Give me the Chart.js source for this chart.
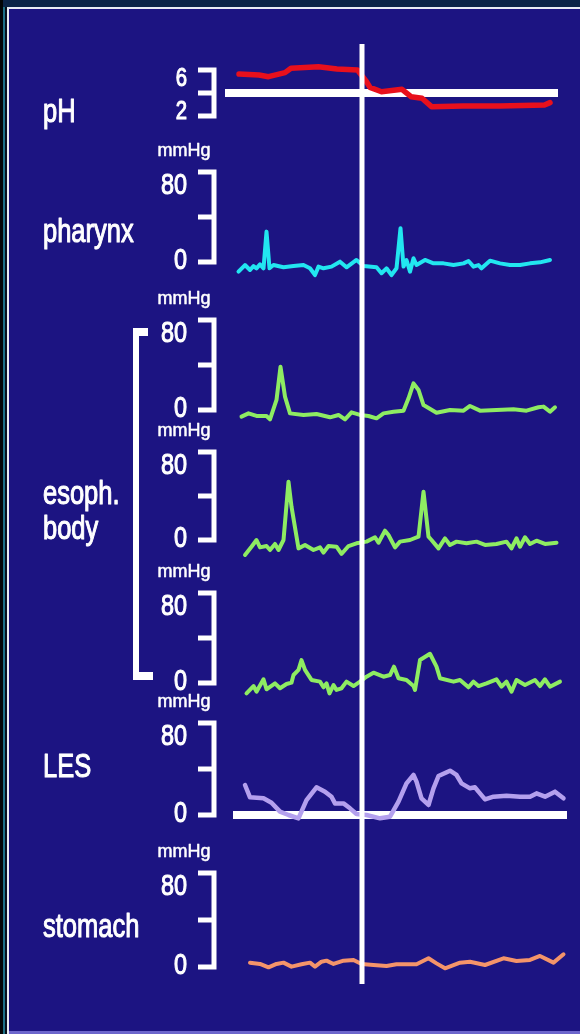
<!DOCTYPE html>
<html><head><meta charset="utf-8">
<script src="https://cdn.jsdelivr.net/npm/chart.js@4.4.1/dist/chart.umd.min.js"></script>
<style>html,body{margin:0;padding:0;background:#0b2447;overflow:hidden}canvas{display:block}</style>
</head><body>
<canvas id="c" width="580" height="1034"></canvas>
<script>
// ---------- DATA (time in s, values in pH / mmHg) ----------
const panelNames = ['pH', 'pharynx', 'esoph.\nbody', 'LES', 'stomach'];
const phTicks = ['6', '2'];
const pressureTicks = ['80', '0'];
const unitLabel = 'mmHg';
const eventTime = 26.4;

const phRefT = [-1, 65.6];
const phRefV = [4, 4];
const lesRefT = [0.6, 67.4];
const lesRefV = [0, 0];

const phT = [1.8,5.8,7.7,11,12.2,17.7,21.4,25.5,27.3,28,30.3,34.4,36.2,38.4,40.3,46.6,54,62.9,64];
const phV = [5.65,5.57,5.42,5.77,6.15,6.29,6.09,6.0,4.98,4.49,4.11,4.32,3.68,3.54,2.81,2.87,2.87,2.96,3.16];

const pharT = [1.7,3,4,4.7,5.3,6,6.7,7.3,7.9,8.7,10.7,12.7,14.7,16,17,17.7,18.7,20.3,22,23.3,25.3,26.7,29.3,30.3,31.3,32.3,33.3,34.1,34.7,35.3,36,36.7,37.3,39,40.7,42.7,44.7,46.7,47.7,48.7,49.7,50.3,52,54,56,58,60,62,64];
const pharV = [-8.6,-2.7,-7.1,-3.6,-5.6,-2.1,-5.6,27,-5.6,-2.7,-4.7,-3.6,-2.7,-5.6,-11.6,-4.1,-5.6,-4.1,0.3,-4.7,1.8,-3.6,-4.7,-10,-5.6,-11.6,-5.6,30,-4.1,1.8,-8.6,3.3,-2.7,1.8,-1.2,-1.2,-2.7,-1.2,0.9,-4.1,-2.7,-5.6,1.2,-1.2,-2.7,-2.7,-1.2,-0.3,1.8];

const eso1T = [2.3,3.7,5.3,7.3,8,9.3,10.1,11,12,14.7,17.3,20,21.7,23,24.3,26,27.7,29.3,30.7,32.7,34.7,35.7,36.7,37.7,38.7,41.3,44,46.7,48,50,53.3,56.7,59.3,61.7,62.7,64,65];
const eso1V = [-5.9,-3,-5.3,-5.3,-8.3,8.9,38.5,11.9,-3,-4.4,-3.6,-6.5,-4.4,-8.3,-2.1,-4.4,-5.3,-7.4,-3,-1.5,-0.6,10.4,23.7,17.8,4.4,-2.4,0,-0.6,3.6,-0.6,0,0.6,-0.6,2.4,3,-1.5,2.4];

const eso2T = [3,4.3,5.3,6,7.3,8,9,9.7,10.7,11.7,12.3,13.7,15,16.7,18,18.7,19.7,21.3,22.3,23.7,25.3,27.3,29,29.7,31,31.7,33,34,36,37.7,38.7,39.7,40.3,41.7,43,44,45.3,47.3,49.3,51,53.3,55.3,56.3,57.3,58,59,60,61.3,63,65.3];
const eso2V = [-13.6,-6.1,0,-6.7,-5.5,-9.1,-3.6,-9.1,0,53,30.3,-7.6,-4.5,-9.1,-6.7,-11.5,-5.5,-6.1,-12.7,-5.5,-3,-1.5,2.5,-2.5,8.5,4.5,-6.7,-1.5,0,3,43.9,3,0,-7.6,1.5,-4.5,-1.5,-3,-1.5,-4.5,-3.6,-1.5,-7.6,1.5,-6.1,2.5,-3.6,-0.6,-3.6,-2.5];

const eso3T = [3.3,4.7,5.3,6.7,7.3,9,10,11.3,12.3,12.7,13.7,14.3,15,16.3,18,18.7,19.3,19.9,20.7,21.3,22.3,23.3,24.7,26,27.3,28.7,30.7,32,32.8,33.7,35.3,36.7,37,38,40,41.3,42,44.7,46,47.7,48.7,49.7,51.3,53.3,54.3,55.3,56.3,57.3,59,61,62,63,64,66];
const eso3V = [-9.2,-2.7,-7.7,3.3,-5.6,-0.3,-4.7,-0.9,0.3,7.1,11.6,20.4,11.6,2.7,1.2,-3.8,-0.3,-9.2,-1.8,-6.2,-4.7,1.2,-2.7,1.2,5.6,9.2,5.6,7.1,14.5,4.2,2.7,-2.7,-6.2,20.4,26,14.5,4.2,1.2,2.7,-3.8,1.2,-2.7,-0.3,3.3,-3.3,1.2,-7.7,2.7,-1.8,2.7,-2.7,3.3,-3.3,1.2];

const lesT = [3,4,6.7,8.3,10,11.7,13.7,15.3,17.3,19,20.3,21,22.7,24,25.3,27.3,30,32,33.7,35.3,36.7,37.3,38.3,39.7,40.7,41.7,44,45.3,46.3,48,49,49.7,51,52.7,55.3,58,60,61.3,63,65,66.7];
const lesV = [26.1,15.4,14.5,10.7,2.9,0,-2.9,13,24.1,20.3,15.9,10.1,10.1,5.8,0.9,0,-2.9,-1.5,11.6,27.5,34.8,29,14.5,8.7,23.2,33.9,38.5,34.8,27.5,23.2,24.1,20.3,13.6,15.9,16.8,15.9,15.9,18.8,15.9,20.3,14.5];

const stoT = [4,6,7.7,9.3,10.7,12.3,14.3,16,17,18.3,19.3,20.7,22.7,24.7,26.3,28.7,31.3,33.3,37.3,39.7,41.3,43,46,48,51,54.7,57.3,60,62,64.7,66.7];
const stoV = [3.7,2.6,-0.3,2.6,3.7,0.3,2.3,3.7,0.3,4.5,5.4,2.6,5.4,6,2.6,1.7,0.9,2.3,2.3,7.4,3.1,-1.1,3.7,4.5,1.7,7.4,5.1,6,9.4,3.7,10.8];

// ---------- LAYOUT ----------
const W = 580, H = 1034;
const FONT = '"Liberation Sans", Arial, Helvetica, sans-serif';
const BG = '#1c1482';
const zip = (t, v) => t.map((x, i) => ({x: x, y: v[i]}));
function band(topPx, botPx, topVal, botVal) {
  const k = (botPx - topPx) / (topVal - botVal);
  return {min: botVal - (H - botPx) / k, max: topVal + topPx / k};
}
const panels = [
  {id: 'yPH',  top: 70,  bot: 116, hi: 6,  lo: 2, ticks: phTicks, unit: false, tickSize: 26, tickY: [86, 119]},
  {id: 'yPh2', top: 172, bot: 262, hi: 80, lo: 0, ticks: pressureTicks, unit: true},
  {id: 'yE1',  top: 320, bot: 410, hi: 80, lo: 0, ticks: pressureTicks, unit: true},
  {id: 'yE2',  top: 452, bot: 540, hi: 80, lo: 0, ticks: pressureTicks, unit: true},
  {id: 'yE3',  top: 593, bot: 683, hi: 80, lo: 0, ticks: pressureTicks, unit: true},
  {id: 'yLES', top: 723, bot: 815, hi: 80, lo: 0, ticks: pressureTicks, unit: true},
  {id: 'ySto', top: 873, bot: 967, hi: 80, lo: 0, ticks: pressureTicks, unit: true}
];
const nameRows = [
  {text: panelNames[0], y: [122]},
  {text: panelNames[1], y: [242]},
  {text: panelNames[2], y: [504, 539]},
  {text: panelNames[3], y: [777]},
  {text: panelNames[4], y: [937]}
];

const scales = {
  x: {type: 'linear', min: 0, max: 70, display: false}
};
panels.forEach(p => {
  const b = band(p.top, p.bot, p.hi, p.lo);
  scales[p.id] = {type: 'linear', min: b.min, max: b.max, display: false};
});

function ds(label, t, v, axis, color, width, order) {
  return {label: label, data: zip(t, v), yAxisID: axis, borderColor: color, borderWidth: width,
    pointRadius: 0, tension: 0, fill: false, clip: false, order: order,
    borderJoinStyle: 'round', borderCapStyle: 'round'};
}
const datasets = [
  ds('pH', phT, phV, 'yPH', '#e8101c', 5.5, 1),
  ds('pharynx', pharT, pharV, 'yPh2', '#22e6f0', 4, 1),
  ds('esoph 1', eso1T, eso1V, 'yE1', '#8eec62', 4, 1),
  ds('esoph 2', eso2T, eso2V, 'yE2', '#8eec62', 4, 1),
  ds('esoph 3', eso3T, eso3V, 'yE3', '#8eec62', 4, 1),
  ds('LES', lesT, lesV, 'yLES', '#b4a0ee', 4.5, 1),
  ds('stomach', stoT, stoV, 'ySto', '#f4946a', 4, 1),
  Object.assign(ds('pH 4', phRefT, phRefV, 'yPH', '#ffffff', 8, 10), {borderCapStyle: 'butt'}),
  Object.assign(ds('LES 0', lesRefT, lesRefV, 'yLES', '#ffffff', 8, 10), {borderCapStyle: 'butt'})
];

function txt(ctx, text, x, y, size, align, sx, stroke) {
  ctx.save();
  ctx.font = size + 'px ' + FONT;
  ctx.fillStyle = '#ffffff';
  ctx.strokeStyle = '#ffffff';
  ctx.lineWidth = stroke;
  ctx.lineJoin = 'round';
  ctx.textAlign = align;
  ctx.textBaseline = 'alphabetic';
  ctx.translate(x, y);
  ctx.scale(sx, 1);
  ctx.fillText(text, 0, 0);
  if (stroke > 0) ctx.strokeText(text, 0, 0);
  ctx.restore();
}

const decor = {
  id: 'decor',
  beforeDraw(chart) {
    const ctx = chart.ctx;
    ctx.save();
    ctx.fillStyle = '#0b2447'; ctx.fillRect(0, 0, W, H);
    ctx.fillStyle = '#030608'; ctx.fillRect(0, 0, 3, H);
    ctx.fillStyle = '#1d6f86'; ctx.fillRect(3, 7, 2, H - 7);
    ctx.fillStyle = '#05101c'; ctx.fillRect(5, 7, 2, H - 7);
    ctx.fillStyle = '#e8ecf4'; ctx.fillRect(7, 7, W - 7, 2); ctx.fillRect(7, 7, 2, H - 7);
    ctx.fillStyle = BG; ctx.fillRect(9, 9, W - 9, H - 9);
    ctx.fillStyle = '#6c66cc'; ctx.fillRect(9, H - 3, W - 9, 3);
    ctx.restore();
  },
  afterDatasetsDraw(chart) {
    const ctx = chart.ctx;
    ctx.save();
    panels.forEach(p => {
      const sc = chart.scales[p.id];
      const yT = sc.getPixelForValue(p.hi), yB = sc.getPixelForValue(p.lo), yM = sc.getPixelForValue((p.hi + p.lo) / 2);
      ctx.strokeStyle = '#ffffff'; ctx.lineWidth = 5; ctx.lineJoin = 'miter'; ctx.lineCap = 'butt';
      ctx.beginPath();
      ctx.moveTo(198, yT); ctx.lineTo(214, yT); ctx.lineTo(214, yB); ctx.lineTo(198, yB);
      ctx.moveTo(198, yM); ctx.lineTo(214, yM);
      ctx.stroke();
      const size = p.tickSize || 30;
      const ty = p.tickY || [yT + 22, yB + 7];
      txt(ctx, p.ticks[0], 187, ty[0], size, 'right', 0.78, 1.1);
      txt(ctx, p.ticks[1], 187, ty[1], size, 'right', 0.78, 1.1);
      if (p.unit) txt(ctx, unitLabel, 184, yT - 16, 18, 'center', 1, 0.5);
    });
    ctx.fillStyle = '#ffffff';
    ctx.fillRect(133, 328, 6, 352);
    ctx.fillRect(133, 328, 15, 8);
    ctx.fillRect(133, 672, 20, 8);
    nameRows.forEach(n => {
      n.text.split('\n').forEach((line, i) => txt(ctx, line, 43, n.y[i], 34, 'left', 0.75, 1.1));
    });
    const xe = chart.scales.x.getPixelForValue(eventTime);
    ctx.fillStyle = '#ffffff';
    ctx.fillRect(xe - 2.5, 44, 5, 940);
    ctx.restore();
  }
};

new Chart(document.getElementById('c'), {
  type: 'line',
  data: {datasets: datasets},
  options: {
    responsive: false, animation: false, devicePixelRatio: 1,
    layout: {padding: {left: 230, right: 0, top: 0, bottom: 0}},
    scales: scales,
    plugins: {legend: {display: false}, tooltip: {enabled: false}, title: {display: false}}
  },
  plugins: [decor]
});
</script>
</body></html>
